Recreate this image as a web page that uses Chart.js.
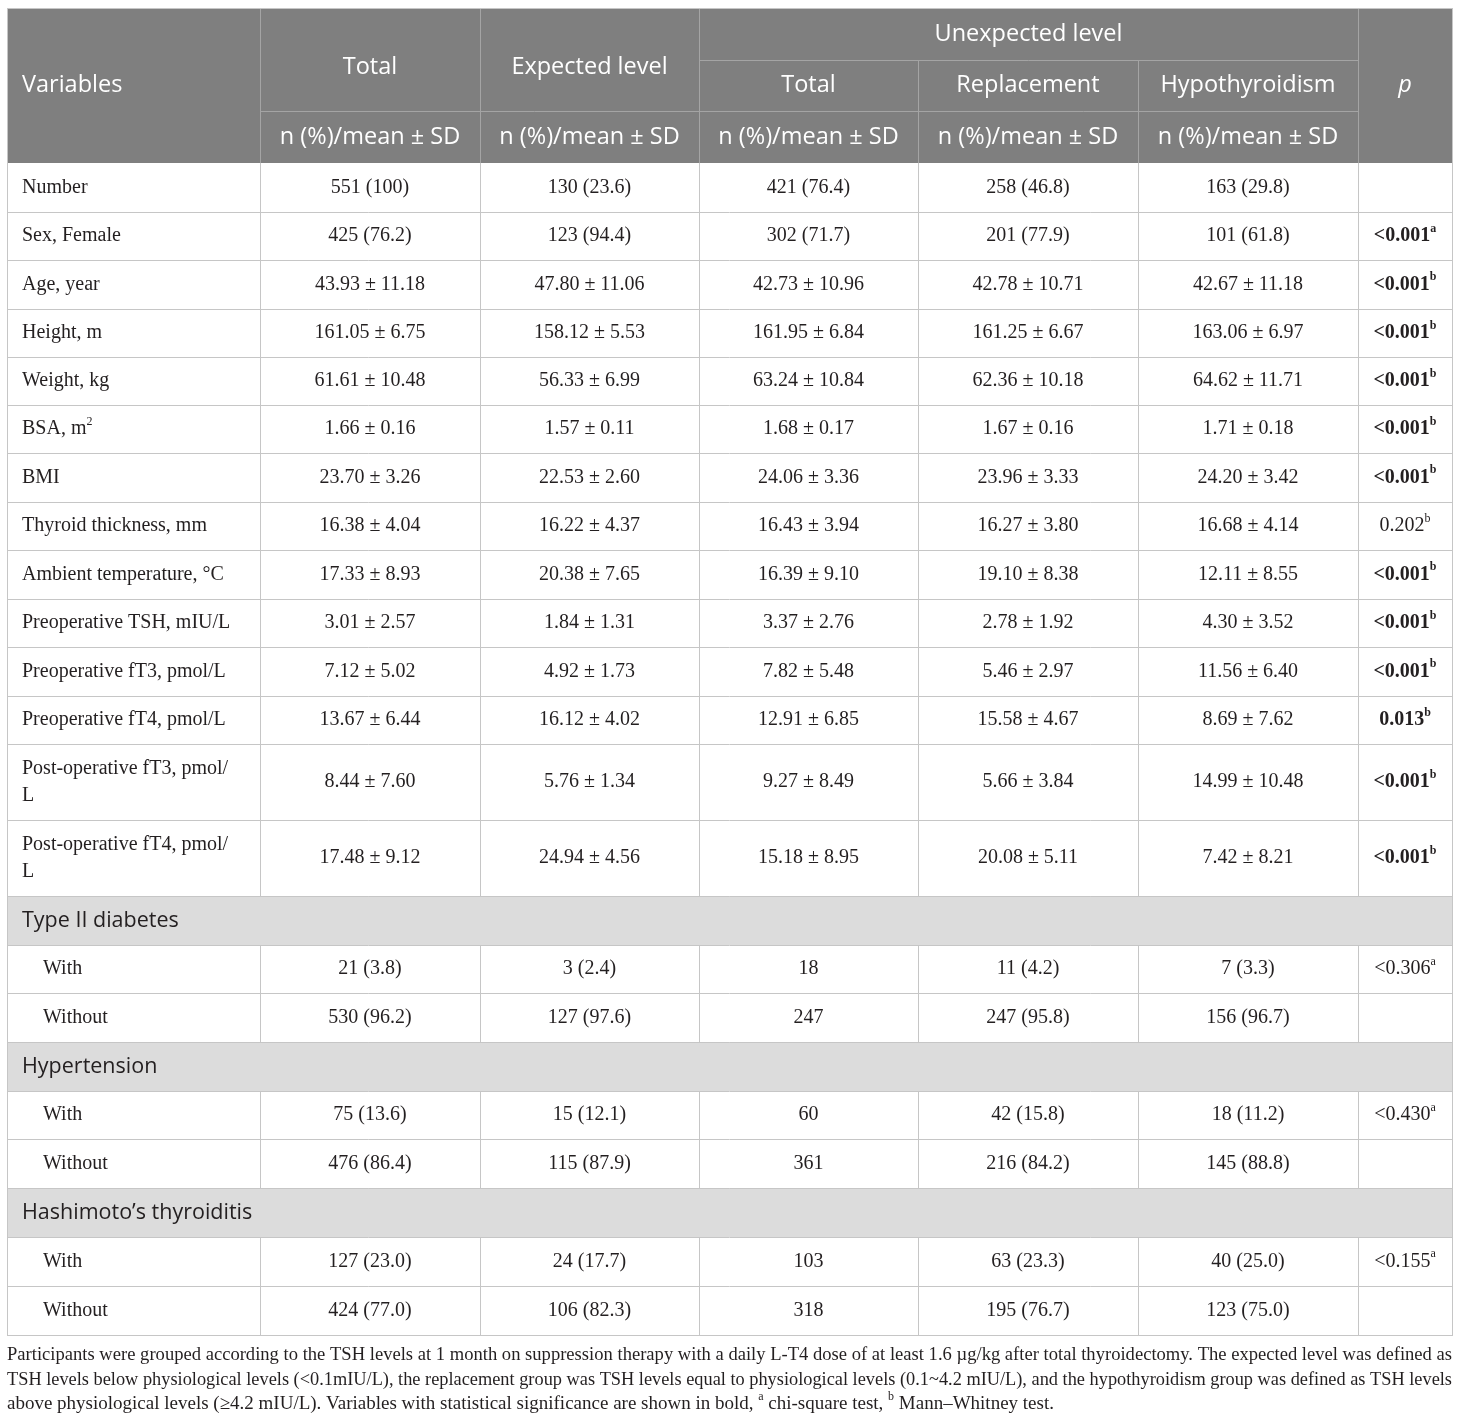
<!DOCTYPE html>
<html><head><meta charset="utf-8">
<script src="https://cdn.jsdelivr.net/npm/chart.js@4"></script>
<style>html,body{margin:0;padding:0;background:#fff}canvas{display:block}</style>
</head><body>
<canvas id="c" width="1460" height="1422" style="width:1460px;height:1422px"></canvas>
<script>
// ---------- DATA ----------
const headVariables = "Variables";
const headTotal = "Total";
const headExpected = "Expected level";
const headUnexpected = "Unexpected level";
const headSubGroups = ["Total", "Replacement", "Hypothyroidism"];
const headP = "p";
const headStat = "n (%)/mean ± SD";

const variables = ["Number","Sex, Female","Age, year","Height, m","Weight, kg","BSA, m^2","BMI",
  "Thyroid thickness, mm","Ambient temperature, °C","Preoperative TSH, mIU/L","Preoperative fT3, pmol/L",
  "Preoperative fT4, pmol/L","Post-operative fT3, pmol/\nL","Post-operative fT4, pmol/\nL"];
const totalVals = ["551 (100)","425 (76.2)","43.93 ± 11.18","161.05 ± 6.75","61.61 ± 10.48","1.66 ± 0.16","23.70 ± 3.26",
  "16.38 ± 4.04","17.33 ± 8.93","3.01 ± 2.57","7.12 ± 5.02","13.67 ± 6.44","8.44 ± 7.60","17.48 ± 9.12"];
const expectedVals = ["130 (23.6)","123 (94.4)","47.80 ± 11.06","158.12 ± 5.53","56.33 ± 6.99","1.57 ± 0.11","22.53 ± 2.60",
  "16.22 ± 4.37","20.38 ± 7.65","1.84 ± 1.31","4.92 ± 1.73","16.12 ± 4.02","5.76 ± 1.34","24.94 ± 4.56"];
const unexpTotalVals = ["421 (76.4)","302 (71.7)","42.73 ± 10.96","161.95 ± 6.84","63.24 ± 10.84","1.68 ± 0.17","24.06 ± 3.36",
  "16.43 ± 3.94","16.39 ± 9.10","3.37 ± 2.76","7.82 ± 5.48","12.91 ± 6.85","9.27 ± 8.49","15.18 ± 8.95"];
const replacementVals = ["258 (46.8)","201 (77.9)","42.78 ± 10.71","161.25 ± 6.67","62.36 ± 10.18","1.67 ± 0.16","23.96 ± 3.33",
  "16.27 ± 3.80","19.10 ± 8.38","2.78 ± 1.92","5.46 ± 2.97","15.58 ± 4.67","5.66 ± 3.84","20.08 ± 5.11"];
const hypoVals = ["163 (29.8)","101 (61.8)","42.67 ± 11.18","163.06 ± 6.97","64.62 ± 11.71","1.71 ± 0.18","24.20 ± 3.42",
  "16.68 ± 4.14","12.11 ± 8.55","4.30 ± 3.52","11.56 ± 6.40","8.69 ± 7.62","14.99 ± 10.48","7.42 ± 8.21"];
const pVals = ["","<0.001","<0.001","<0.001","<0.001","<0.001","<0.001","0.202","<0.001","<0.001","<0.001","0.013","<0.001","<0.001"];
const pNotes = ["","a","b","b","b","b","b","b","b","b","b","b","b","b"];
const pBold = [false,true,true,true,true,true,true,false,true,true,true,true,true,true];

const sections = ["Type II diabetes","Hypertension","Hashimoto’s thyroiditis"];
const subLabels = ["With","Without"];
const catTotal = [["21 (3.8)","530 (96.2)"],["75 (13.6)","476 (86.4)"],["127 (23.0)","424 (77.0)"]];
const catExpected = [["3 (2.4)","127 (97.6)"],["15 (12.1)","115 (87.9)"],["24 (17.7)","106 (82.3)"]];
const catUnexpTotal = [["18","247"],["60","361"],["103","318"]];
const catReplacement = [["11 (4.2)","247 (95.8)"],["42 (15.8)","216 (84.2)"],["63 (23.3)","195 (76.7)"]];
const catHypo = [["7 (3.3)","156 (96.7)"],["18 (11.2)","145 (88.8)"],["40 (25.0)","123 (75.0)"]];
const catP = ["<0.306","<0.430","<0.155"];
const catPNotes = ["a","a","a"];

const footnoteLines = [
  "Participants were grouped according to the TSH levels at 1 month on suppression therapy with a daily L-T4 dose of at least 1.6 µg/kg after total thyroidectomy. The expected level was defined as",
  "TSH levels below physiological levels (<0.1mIU/L), the replacement group was TSH levels equal to physiological levels (0.1~4.2 mIU/L), and the hypothyroidism group was defined as TSH levels",
  "above physiological levels (≥4.2 mIU/L). Variables with statistical significance are shown in bold, ^a chi-square test, ^b Mann–Whitney test."
];

// ---------- LAYOUT ----------
const colEdges = [7, 260, 480, 699, 918, 1138, 1358, 1452];
const headEdges = [8, 60, 111, 163];
const rowEdges = [163,212,260,309,357,405,453,502,550,599,647,696,744,820,896,945,993,1042,1091,1139,1188,1237,1286,1335];
const footY = [1355, 1380, 1404];

const SANS = '"Open Sans", "Noto Sans", sans-serif';
const SERIF = '"Liberation Serif", "DejaVu Serif", serif';
const C_HEAD = '#7f7f7f', C_HEADLINE = '#a4a4a4', C_SECTION = '#dcdcdc', C_LINE = '#c6c6c6', C_TEXT = '#231f20';

function parseRich(str) {
  const segs = []; let cur = '';
  for (let i = 0; i < str.length; i++) {
    if (str[i] === '^' && i + 1 < str.length) {
      if (cur) segs.push({t: cur}); cur = '';
      segs.push({t: str[i + 1], sup: true}); i++;
    } else cur += str[i];
  }
  if (cur) segs.push({t: cur});
  return segs;
}
function fontStr(style, weight, size, family) { return `${style} ${weight} ${size}px ${family}`; }
function drawRich(ctx, str, x, y, align, o) {
  const size = o.size, fam = o.family, wt = o.weight || 'normal', st = o.style || 'normal';
  const segs = parseRich(str);
  const supSize = Math.round(size * 0.62);
  let w = 0;
  segs.forEach(s => {
    ctx.font = fontStr(st, wt, s.sup ? supSize : size, fam);
    s.w = ctx.measureText(s.t).width; w += s.w;
  });
  let cx = align === 'center' ? x - w / 2 : (align === 'right' ? x - w : x);
  ctx.textAlign = 'left'; ctx.textBaseline = 'middle';
  ctx.fillStyle = o.color;
  segs.forEach(s => {
    ctx.font = fontStr(st, wt, s.sup ? supSize : size, fam);
    ctx.fillText(s.t, cx, s.sup ? y - size * 0.36 : y);
    cx += s.w;
  });
}

const tablePlugin = {
  id: 'tablePlugin',
  beforeDraw(chart) {
    const ctx = chart.ctx;
    const X = v => chart.scales.x.getPixelForValue(v);
    const Y = v => chart.scales.y.getPixelForValue(v);
    const hline = (x0, x1, y, c) => { ctx.strokeStyle = c; ctx.lineWidth = 1; ctx.beginPath();
      ctx.moveTo(X(x0), Math.round(Y(y)) + 0.5); ctx.lineTo(X(x1), Math.round(Y(y)) + 0.5); ctx.stroke(); };
    const vline = (x, y0, y1, c) => { ctx.strokeStyle = c; ctx.lineWidth = 1; ctx.beginPath();
      ctx.moveTo(Math.round(X(x)) + 0.5, Y(y0)); ctx.lineTo(Math.round(X(x)) + 0.5, Y(y1)); ctx.stroke(); };
    const mid = (a, b) => (a + b) / 2;

    ctx.save();
    ctx.fillStyle = '#fff';
    ctx.fillRect(0, 0, chart.width, chart.height);

    // ----- header -----
    const L = colEdges[0], R = colEdges[colEdges.length - 1];
    ctx.fillStyle = C_HEAD;
    ctx.fillRect(X(L), Y(headEdges[0]), X(R) - X(L), Y(headEdges[3]) - Y(headEdges[0]));
    [1, 2, 3, 6].forEach(i => vline(colEdges[i], headEdges[0], headEdges[3], C_HEADLINE));
    [4, 5].forEach(i => vline(colEdges[i], headEdges[1], headEdges[3], C_HEADLINE));
    hline(colEdges[3], colEdges[6], headEdges[1], C_HEADLINE);
    hline(colEdges[1], colEdges[6], headEdges[2], C_HEADLINE);
    const hOpt = {size: 23.5, family: SANS, color: '#ffffff'};
    drawRich(ctx, headVariables, X(L + 15), Y(mid(headEdges[0], headEdges[3])), 'left', hOpt);
    drawRich(ctx, headTotal, X(mid(colEdges[1], colEdges[2])), Y(mid(headEdges[0], headEdges[2]) + 8), 'center', hOpt);
    drawRich(ctx, headExpected, X(mid(colEdges[2], colEdges[3])), Y(mid(headEdges[0], headEdges[2]) + 8), 'center', hOpt);
    drawRich(ctx, headUnexpected, X(mid(colEdges[3], colEdges[6])), Y(mid(headEdges[0], headEdges[1])), 'center', hOpt);
    headSubGroups.forEach((t, i) => drawRich(ctx, t, X(mid(colEdges[3 + i], colEdges[4 + i])), Y(mid(headEdges[1], headEdges[2])), 'center', hOpt));
    for (let i = 1; i <= 5; i++) drawRich(ctx, headStat, X(mid(colEdges[i], colEdges[i + 1])), Y(mid(headEdges[2], headEdges[3])), 'center', hOpt);
    drawRich(ctx, headP, X(mid(colEdges[6], colEdges[7])), Y(mid(headEdges[0], headEdges[3])), 'center', Object.assign({}, hOpt, {style: 'italic'}));

    // ----- body -----
    const bOpt = {size: 20, family: SERIF, color: C_TEXT};
    let r = 0;
    const drawRow = (label, vals, p, note, bold, indent) => {
      const y0 = rowEdges[r], y1 = rowEdges[r + 1], ym = mid(y0, y1);
      colEdges.forEach(cx => vline(cx, y0, y1, C_LINE));
      hline(L, R, y1, C_LINE);
      const lines = label.split('\n');
      const lh = 27;
      lines.forEach((ln, k) => drawRich(ctx, ln, X(L + (indent ? 36 : 15)), Y(ym + (k - (lines.length - 1) / 2) * lh), 'left', bOpt));
      vals.forEach((v, i) => drawRich(ctx, v, X(mid(colEdges[i + 1], colEdges[i + 2])), Y(ym), 'center', bOpt));
      if (p) drawRich(ctx, p + '^' + note, X(mid(colEdges[6], colEdges[7])), Y(ym), 'center', Object.assign({}, bOpt, {weight: bold ? 'bold' : 'normal'}));
      r++;
    };
    variables.forEach((lab, i) => drawRow(lab, [totalVals[i], expectedVals[i], unexpTotalVals[i], replacementVals[i], hypoVals[i]], pVals[i], pNotes[i], pBold[i], false));
    sections.forEach((sec, s) => {
      const y0 = rowEdges[r], y1 = rowEdges[r + 1];
      ctx.fillStyle = C_SECTION;
      ctx.fillRect(X(L), Y(y0), X(R) - X(L), Y(y1) - Y(y0));
      hline(L, R, y0, C_LINE); hline(L, R, y1, C_LINE);
      drawRich(ctx, sec, X(L + 15), Y(mid(y0, y1)), 'left', {size: 21.5, family: SANS, color: C_TEXT});
      r++;
      subLabels.forEach((sl, k) => drawRow(sl, [catTotal[s][k], catExpected[s][k], catUnexpTotal[s][k], catReplacement[s][k], catHypo[s][k]],
        k === 0 ? catP[s] : '', catPNotes[s], false, true));
    });
    // outer border
    ctx.strokeStyle = C_LINE; ctx.lineWidth = 1;
    ctx.strokeRect(Math.round(X(L)) + 0.5, Math.round(Y(headEdges[0])) + 0.5, Math.round(X(R) - X(L)), Math.round(Y(rowEdges[rowEdges.length - 1]) - Y(headEdges[0])));

    // ----- footnote -----
    const fSize = 19;
    const W = X(R) - X(L);
    footnoteLines.forEach((ln, i) => {
      const y = Y(footY[i]);
      if (i < footnoteLines.length - 1) {
        ctx.font = fontStr('normal', 'normal', fSize, SERIF);
        ctx.fillStyle = C_TEXT; ctx.textBaseline = 'middle'; ctx.textAlign = 'left';
        const words = ln.split(' ');
        const ww = words.map(w => ctx.measureText(w).width);
        const sum = ww.reduce((a, b) => a + b, 0);
        const sp = ctx.measureText(' ').width;
        if (sum + sp * (words.length - 1) > W) {
          const k = W / (sum + sp * (words.length - 1));
          ctx.save(); ctx.translate(X(L), y); ctx.scale(k, 1);
          ctx.fillText(ln, 0, 0); ctx.restore();
        } else {
          const gap = (W - sum) / (words.length - 1);
          let cx = X(L);
          words.forEach((w, j) => { ctx.fillText(w, cx, y); cx += ww[j] + gap; });
        }
      } else {
        drawRich(ctx, ln, X(L), y, 'left', {size: fSize, family: SERIF, color: C_TEXT});
      }
    });
    ctx.restore();
  }
};

new Chart(document.getElementById('c'), {
  type: 'scatter',
  data: { datasets: [] },
  options: {
    responsive: false,
    animation: false,
    devicePixelRatio: 1,
    layout: { padding: 0 },
    plugins: { legend: { display: false }, tooltip: { enabled: false } },
    scales: {
      x: { type: 'linear', min: 0, max: 1460, display: false },
      y: { type: 'linear', min: 0, max: 1422, reverse: true, display: false }
    }
  },
  plugins: [tablePlugin]
});
</script>
</body></html>
